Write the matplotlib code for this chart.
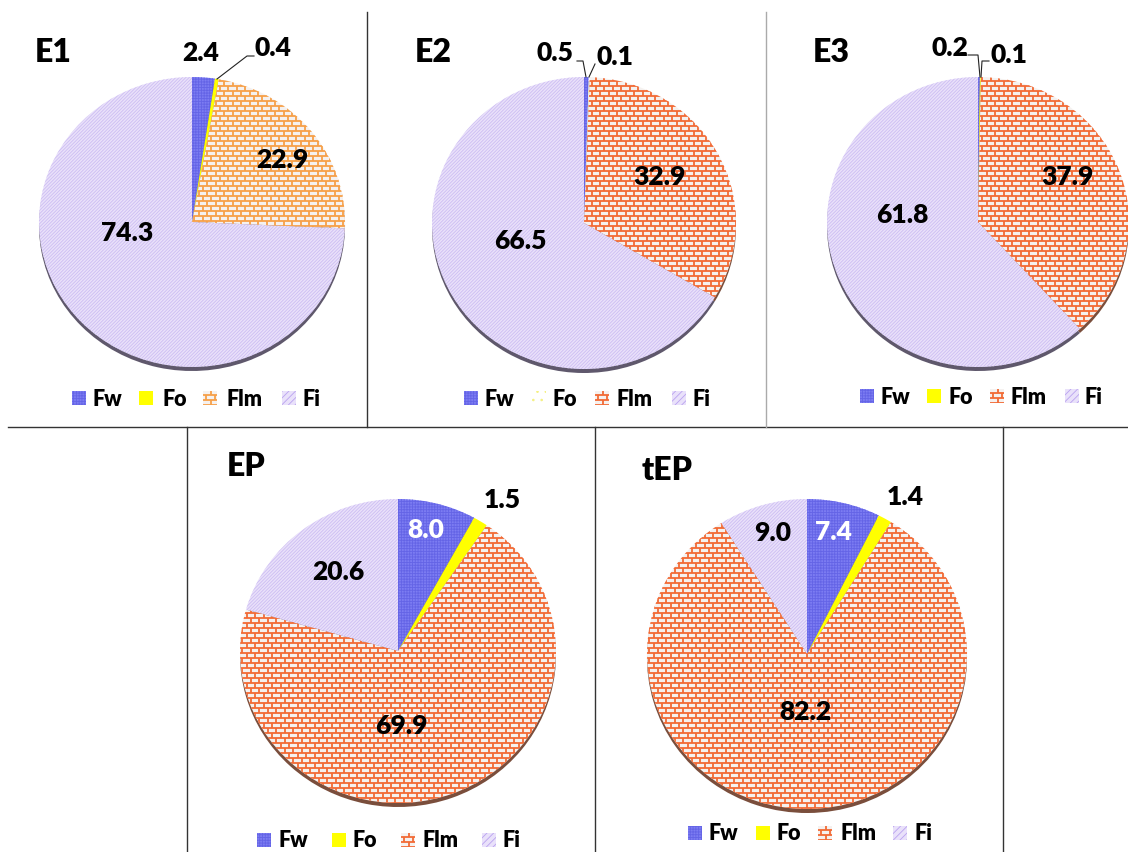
import numpy as np
import matplotlib
matplotlib.use('Agg')
import matplotlib.pyplot as plt
from matplotlib.collections import LineCollection
from matplotlib.patches import Rectangle
from matplotlib.transforms import Affine2D

plt.rcParams['font.family'] = ['Lato', 'DejaVu Sans']
plt.rcParams['hatch.linewidth'] = 0.6

W, H = 1128, 853

components = ['Fw', 'Fo', 'Flm', 'Fi']
e1_share = [2.4, 0.4, 22.9, 74.3]
e2_share = [0.5, 0.1, 32.9, 66.5]
e3_share = [0.2, 0.1, 37.9, 61.8]
ep_share = [8.0, 1.5, 69.9, 20.6]
tep_share = [7.4, 1.4, 82.2, 9.0]
titles = ['E1', 'E2', 'E3', 'EP', 'tEP']

# panel layout in pixels (y measured from the top)
panels = [
    dict(data=e1_share, title=(35, 52), c=(192, 223), rx=153, ry=145, brick='#f7a048',
         labels=[(201, 53), (273, 48), (282, 160), (127, 233)],
         leg_y=399, leg_mk=[72, 139, 203, 282], leg_tx=[92, 162, 226, 302]),
    dict(data=e2_share, title=(415, 52), c=(584, 224), rx=152, ry=146, brick='#f26a35',
         labels=[(555, 53), (615, 57), (660, 177), (520, 241)],
         leg_y=399, leg_mk=[464, 532, 595, 672], leg_tx=[485, 553, 617, 693]),
    dict(data=e3_share, title=(813, 52), c=(978, 223), rx=151, ry=145, brick='#f26a35',
         labels=[(950, 48), (1009, 55), (1068, 177), (902, 215)],
         leg_y=397, leg_mk=[860, 927, 990, 1065], leg_tx=[880, 948, 1010, 1085]),
    dict(data=ep_share, title=(227, 467), c=(398, 652), rx=158, ry=152, brick='#f26a35',
         labels=[(426, 530), (502, 500), (401, 726), (338, 572)],
         leg_y=841, leg_mk=[257, 332, 401, 482], leg_tx=[278, 353, 422, 503]),
    dict(data=tep_share, title=(642, 470), c=(807, 655), rx=160, ry=155, brick='#f26a35',
         labels=[(833, 532), (905, 497), (805, 712), (773, 533)],
         leg_y=834, leg_mk=[688, 756, 818, 893], leg_tx=[709, 777, 840, 915]),
]

# leader lines for the thin slices
leaders = [
    [(217, 80), (247, 57), (254, 57)],
    [(577, 62), (583, 62), (586, 78)],
    [(595, 65), (589, 78)],
    [(968, 56), (978, 56), (980, 78)],
    [(989, 62), (982, 62), (981, 78)],
]

fw_face, fw_hatch = '#7c7cf2', '#6464e6'
fo_face = '#ffff00'
fi_face, fi_hatch = '#e9e1fa', '#cdbdf3'
side_colors = ['#3c3c8c', '#8a8a10', '#7a4e3c', '#5f586c']
bold = 'heavy'


def add_bricks(ax, patch, color, x0, x1, y0, y1, bw=8.5, bh=5.0, lw=1.3):
    segs = []
    for k, y in enumerate(np.arange(y0, y1 + bh, bh)):
        segs.append([(x0, y), (x1, y)])
        off = (k % 2) * bw / 2
        for x in np.arange(x0 + off, x1 + bw, bw):
            segs.append([(x, y), (x, y + bh)])
    lc = LineCollection(segs, colors=color, linewidths=lw, zorder=patch.get_zorder() + 0.1)
    ax.add_collection(lc)
    lc.set_clip_path(patch)


def style_patch(ax, p, comp, brick, box, faint_fo=False, key=False):
    p.set_linewidth(0)
    if comp == 'Fw':
        p.set_facecolor(fw_face)
        p.set_edgecolor(fw_hatch)
        p.set_hatch('++++++')
    elif comp == 'Fo':
        if faint_fo:
            p.set_facecolor('white')
            p.set_edgecolor('#f4f080')
            p.set_hatch('..')
        else:
            p.set_facecolor(fo_face)
            p.set_edgecolor(fo_face)
    elif comp == 'Flm':
        p.set_facecolor('#f5f1ef')
        p.set_edgecolor('#f5f1ef')
        add_bricks(ax, p, brick, *box)
    else:
        p.set_facecolor(fi_face)
        if key:
            # coarser stripes so the small legend key reads as hatched
            p.set_edgecolor('#b9a2f0')
            p.set_hatch('/////')
        else:
            p.set_edgecolor(fi_hatch)
            p.set_hatch('//////////')


fig = plt.figure(figsize=(W / 100, H / 100), dpi=100)
ax = fig.add_axes([0, 0, 1, 1])

for i, pn in enumerate(panels):
    cx, cy = pn['c']
    rx, ry = pn['rx'], pn['ry']
    squash = Affine2D().translate(-cx, -cy).scale(1, ry / rx).translate(cx, cy)
    box = (cx - rx - 2, cx + rx + 2, cy - ry - 6, cy + ry + 6)

    # darker side of the disc, showing under the lower rim
    side, _ = ax.pie(pn['data'], center=(cx, cy + 4), radius=rx, startangle=-90,
                     counterclock=True, colors=side_colors,
                     wedgeprops=dict(linewidth=0))
    for w in side:
        w.set_transform(Affine2D().translate(-cx, -cy - 4).scale(1, ry / rx)
                        .translate(cx, cy + 4) + ax.transData)
        w.set_zorder(1)

    wedges, _ = ax.pie(pn['data'], center=(cx, cy), radius=rx, startangle=-90,
                       counterclock=True, wedgeprops=dict(linewidth=0))
    for w, comp in zip(wedges, components):
        w.set_transform(squash + ax.transData)
        w.set_zorder(2)
        style_patch(ax, w, comp, pn['brick'], box, faint_fo=(i == 1))

    tx, ty = pn['title']
    ax.text(tx, ty, titles[i], fontsize=23, fontweight=bold, ha='left', va='center', zorder=5)

    for val, comp, (lx, ly) in zip(pn['data'], components, pn['labels']):
        col = 'white' if (comp == 'Fw' and val > 5) else 'black'
        ax.text(lx, ly, f'{val:.1f}', fontsize=19, fontweight=bold, color=col,
                ha='center', va='center', zorder=5)

    # legend
    ly = pn['leg_y']
    for comp, mx, txx in zip(components, pn['leg_mk'], pn['leg_tx']):
        r = Rectangle((mx, ly - 7), 14, 14, zorder=3)
        ax.add_patch(r)
        style_patch(ax, r, comp, pn['brick'], (mx - 1, mx + 15, ly - 8, ly + 8),
                    faint_fo=(i == 1), key=True)
        ax.text(txx, ly, comp, fontsize=15.5, fontweight=bold, ha='left', va='center', zorder=5)

for pts in leaders:
    xs, ys = zip(*pts)
    ax.plot(xs, ys, color='#222222', lw=0.8, zorder=4)

# panel frames
ax.plot([8, W], [428, 428], color='#333333', lw=1.0, zorder=4)
ax.plot([367, 367], [13, 428], color='#333333', lw=1.0, zorder=4)
ax.plot([766, 766], [13, 428], color='#aaaaaa', lw=1.0, zorder=4)
for x in [187, 595, 1003]:
    ax.plot([x, x], [428, H], color='#333333', lw=1.0, zorder=4)

ax.set_aspect('auto')
ax.set_xlim(0, W)
ax.set_ylim(H, 0)
ax.axis('off')

fig.savefig('out.png', dpi=100)
